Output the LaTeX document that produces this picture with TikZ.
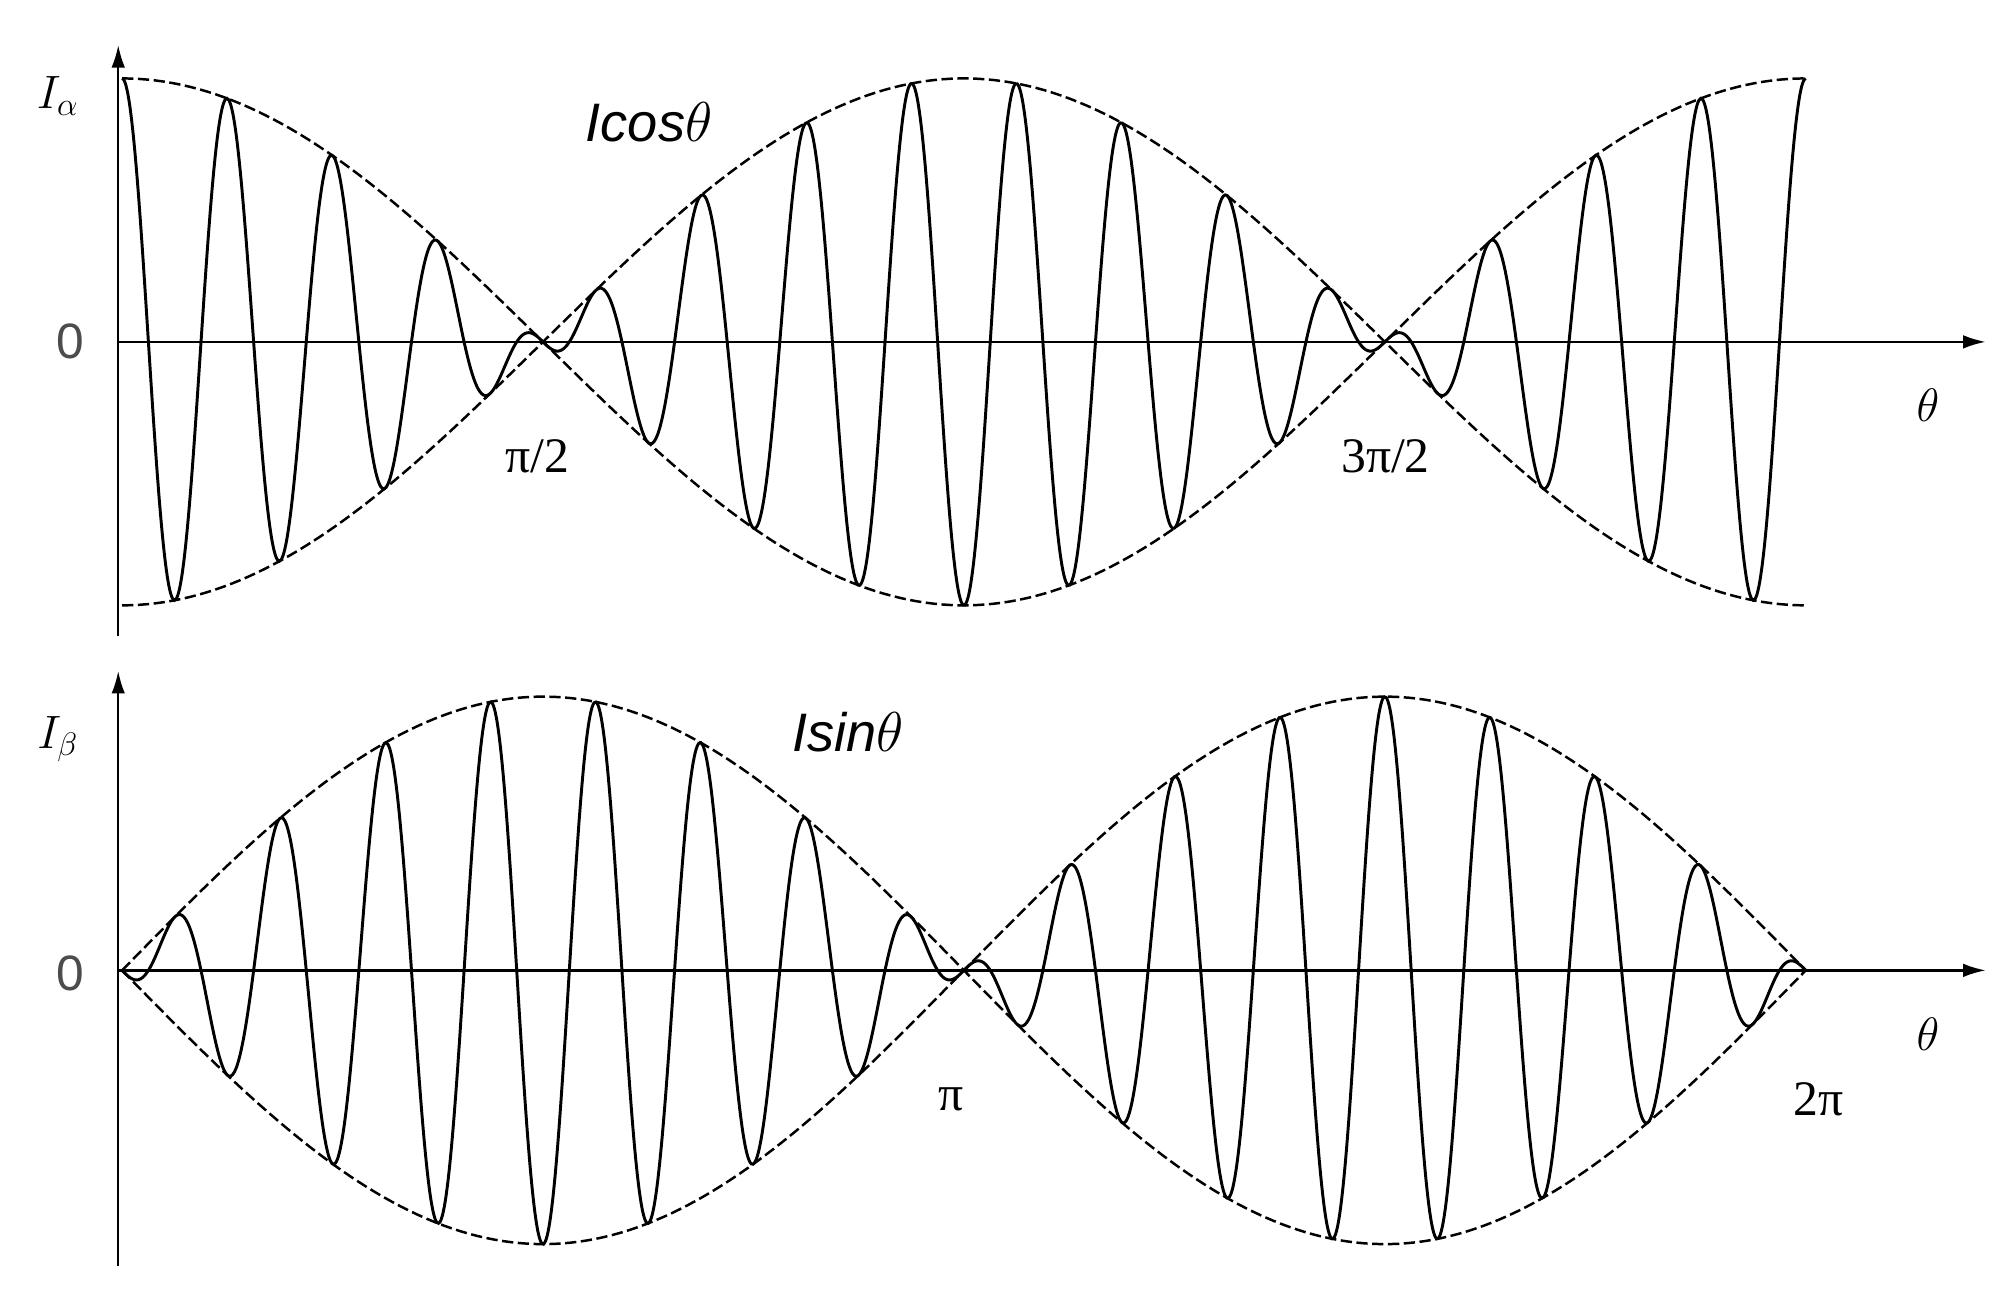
\documentclass[tikz,border=0pt]{standalone}
\usepackage{fontspec}
\setmainfont{Liberation Sans}
\newfontfamily\seriffont{Liberation Serif}
\usetikzlibrary{arrows.meta}
\begin{document}
\begin{tikzpicture}[x=0.02cm,y=-0.02cm,
  sig/.style={line width=1.3pt},
  env/.style={line width=1.1pt,dash pattern=on 5pt off 2pt},
  ax/.style={line width=1pt,-{Latex[length=10pt,width=6pt]}},
  lab/.style={font=\fontsize{22}{24}\selectfont},
  plab/.style={font=\seriffont\fontsize{22}{24}\selectfont}]
\useasboundingbox (0,0) rectangle (1560,1011);
% top
\coordinate (t0) at (92,495); \coordinate (t1) at (92,35);
\coordinate (h0) at (92,266); \coordinate (h1) at (1545,266);
\draw[ax] (t0) -- (t1);
\draw[ax] (h0) -- (h1);
\draw[env] plot[domain=0:2*pi,samples=200] ({95+\x*1310/(2*pi)},{266-205*cos(deg(\x))});
\draw[env] plot[domain=0:2*pi,samples=200] ({95+\x*1310/(2*pi)},{266+205*cos(deg(\x))});
\draw[sig] plot[domain=0:2*pi,samples=900,smooth] ({95+\x*1310/(2*pi)},{266-205*cos(deg(\x))*cos(deg(16*\x))});
\node[lab] (ia) at (45,75) {$I_\alpha$};
\node[lab,font=\itshape\fontsize{24}{26}\selectfont] (ic) at (505,95) {Icos$\theta$};
\node[lab,text=black!70] (z1) at (55,266) {0};
\node[lab] (th1) at (1500,315) {$\theta$};
\node[plab] (p2) at (418,355) {π/2};
\node[plab] (p32) at (1078,355) {3π/2};
% bottom
\coordinate (b0) at (92,985); \coordinate (b1) at (92,522);
\coordinate (g0) at (92,755); \coordinate (g1) at (1545,755);
\draw[ax] (b0) -- (b1);
\draw[ax] (g0) -- (g1);
\draw[env] plot[domain=0:2*pi,samples=200] ({95+\x*1310/(2*pi)},{755-213*sin(deg(\x))});
\draw[env] plot[domain=0:2*pi,samples=200] ({95+\x*1310/(2*pi)},{755+213*sin(deg(\x))});
\draw[sig] plot[domain=0:2*pi,samples=900,smooth] ({95+\x*1310/(2*pi)},{755+213*sin(deg(\x))*cos(deg(16*\x))});
\node[lab] (ib) at (45,575) {$I_\beta$};
\node[lab,font=\itshape\fontsize{24}{26}\selectfont] (is) at (660,570) {Isin$\theta$};
\node[lab,text=black!70] (z2) at (55,757) {0};
\node[lab] (th2) at (1500,805) {$\theta$};
\node[plab] (p1) at (740,855) {π};
\node[plab] (p22) at (1415,855) {2π};
\end{tikzpicture}
\end{document}
